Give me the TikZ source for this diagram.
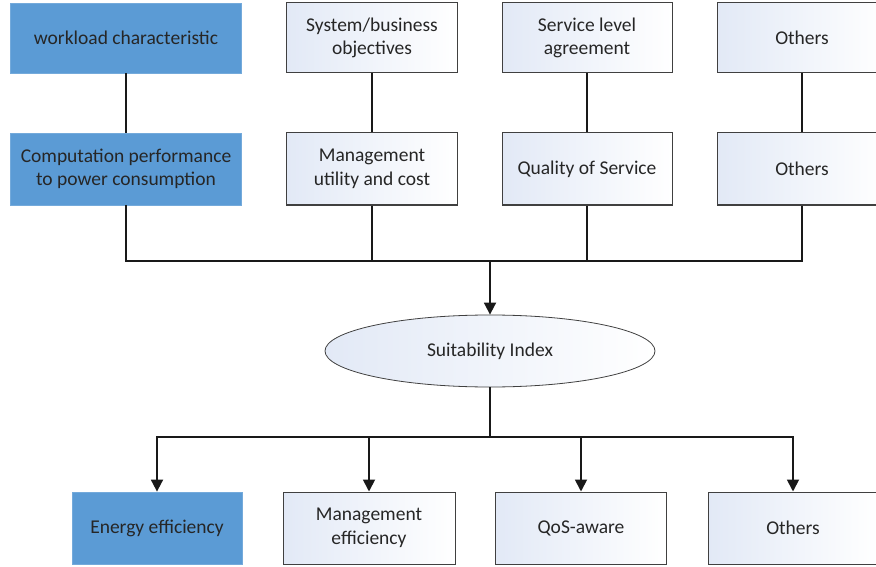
\documentclass[tikz,border=0pt]{standalone}
\usepackage{fontspec}
\setmainfont{Carlito}
\usetikzlibrary{shapes.geometric,arrows.meta}
\definecolor{bluefill}{HTML}{5B9BD5}
\definecolor{boxedge}{HTML}{404040}
\definecolor{lightshade}{HTML}{E2E9F6}
\tikzset{
  x=1pt,y=-1pt,
  txt/.style={font=\fontsize{19.5}{23.5}\selectfont, align=center, text=black!85},
  bluebox/.style={txt, rectangle, fill=bluefill, draw=bluefill!85!white, line width=0.8pt, minimum height=#1, inner sep=0pt},
  gradfill/.style={shade, shading angle=135, left color=lightshade, middle color=white!85!lightshade, right color=white},
  whitebox/.style={txt, rectangle, draw=boxedge, line width=1pt, minimum height=#1, inner sep=0pt, gradfill},
  conn/.style={line width=1.8pt, draw=black!90},
  arr/.style={conn, -{Triangle[width=12pt,length=12pt]}},
}
\begin{document}
\begin{tikzpicture}
\useasboundingbox (0,0) rectangle (876,567);
% top row
\node[bluebox=70, minimum width=231] (a1) at (126,38) {workload characteristic};
\node[whitebox=70, minimum width=171] (a2) at (372,38) {System/business\\objectives};
\node[whitebox=70, minimum width=170] (a3) at (587,38) {Service level\\agreement};
\node[whitebox=70, minimum width=170] (a4) at (802,38) {Others};
% second row
\node[bluebox=72, minimum width=231] (b1) at (126,169) {Computation performance\\to power consumption};
\node[whitebox=72, minimum width=171] (b2) at (372,169) {Management\\utility and cost};
\node[whitebox=72, minimum width=170] (b3) at (587,169) {Quality of Service};
\node[whitebox=72, minimum width=170] (b4) at (802,169) {Others};
% ellipse
\node[txt, ellipse, draw=boxedge, line width=0.8pt, minimum width=330, minimum height=72, inner sep=0pt, gradfill] (si) at (490,351) {Suitability Index};
% bottom row
\node[bluebox=72, minimum width=170] (d1) at (157,528) {Energy efficiency};
\node[whitebox=72, minimum width=172] (d2) at (369,528) {Management\\efficiency};
\node[whitebox=72, minimum width=171] (d3) at (581,528) {QoS-aware};
\node[whitebox=72, minimum width=170] (d4) at (793,528) {Others};
% coordinates
\coordinate (bus1) at (490,261);
\coordinate (bus2) at (490,437);
% top connectors
\draw[conn] (a1.south) -- (b1.north);
\draw[conn] (a2.south) -- (b2.north);
\draw[conn] (a3.south) -- (b3.north);
\draw[conn] (a4.south) -- (b4.north);
\draw[conn] (b1.south) |- (bus1);
\draw[conn] (b4.south) |- (bus1);
\draw[conn] (b2.south) -- (b2.south |- bus1);
\draw[conn] (b3.south) -- (b3.south |- bus1);
\draw[arr] (bus1) -- (si.north);
% bottom connectors
\draw[conn] (si.south) -- (bus2);
\draw[arr] (bus2) -| (d1.north);
\draw[arr] (bus2) -| (d2.north);
\draw[arr] (bus2) -| (d3.north);
\draw[arr] (bus2) -| (d4.north);
\end{tikzpicture}
\end{document}
